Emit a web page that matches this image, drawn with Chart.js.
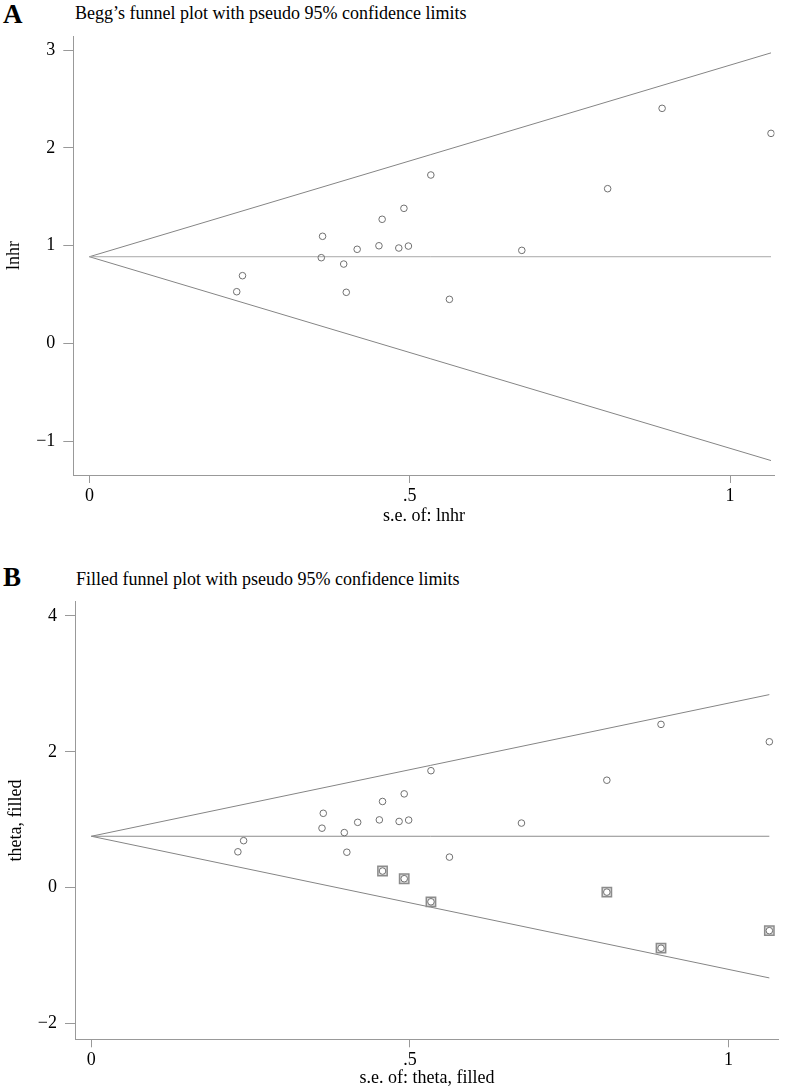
<!DOCTYPE html>
<html>
<head>
<meta charset="utf-8">
<script src="https://cdn.jsdelivr.net/npm/chart.js@4.4.1/dist/chart.umd.min.js"></script>
<style>
body { margin:0; background:#fff; width:787px; height:1088px; position:relative; overflow:hidden; font-family:"Liberation Serif", serif; color:#000; }
.letter { position:absolute; left:3px; font-size:27px; font-weight:bold; line-height:27px; }
.ttl { position:absolute; left:75px; font-size:18px; line-height:18px; white-space:nowrap; }
canvas { position:absolute; left:0; }
</style>
</head>
<body>
<div class="letter" style="top:1px">A</div>
<div class="ttl" style="top:4px">Begg’s funnel plot with pseudo 95% confidence limits</div>
<canvas id="chartA" width="787" height="530" style="top:0"></canvas>

<div class="letter" style="top:564px">B</div>
<div class="ttl" style="top:570px; left:76px">Filled funnel plot with pseudo 95% confidence limits</div>
<canvas id="chartB" width="787" height="544" style="top:544px"></canvas>

<script>
// studies: s.e. and lnhr
var seStudy = [0.533, 0.491, 0.457, 0.364, 0.418, 0.452, 0.483, 0.498, 0.362, 0.397, 0.239, 0.230, 0.401, 0.562, 0.894, 1.064, 0.809, 0.675];
var lnhr    = [1.722, 1.381, 1.269, 1.095, 0.962, 0.998, 0.975, 0.995, 0.876, 0.811, 0.692, 0.528, 0.522, 0.450, 2.404, 2.148, 1.582, 0.951];

// trim and fill: imputed studies
var seFilled    = [0.457, 0.491, 0.533, 0.809, 0.894, 1.064];
var thetaFilled = [0.245, 0.132, -0.208, -0.065, -0.891, -0.633];

var pooledA = 0.886;
var pooledB = 0.757;

var xTicks = [0, 0.5, 1];
var xTickLabels = ['0', '.5', '1'];
var yTicksA = [-1, 0, 1, 2, 3];
var yTicksB = [-2, 0, 2, 4];

var serif = 'Liberation Serif';

function pts(xs, ys) {
  var out = [];
  for (var i = 0; i < xs.length; i++) out.push({x: xs[i], y: ys[i]});
  return out;
}

function funnelSets(theta, se, midColor) {
  var maxSe = Math.max.apply(null, se);
  var base = {type: 'line', showLine: true, pointRadius: 0, borderWidth: 1, fill: false, tension: 0};
  return [
    Object.assign({}, base, {data: [{x: 0, y: theta}, {x: maxSe, y: theta}], borderColor: midColor}),
    Object.assign({}, base, {data: [{x: 0, y: theta}, {x: maxSe, y: theta + 1.96 * maxSe}], borderColor: '#858585'}),
    Object.assign({}, base, {data: [{x: 0, y: theta}, {x: maxSe, y: theta - 1.96 * maxSe}], borderColor: '#858585'})
  ];
}

function circles(xs, ys, fill) {
  return {
    type: 'scatter', data: pts(xs, ys), pointStyle: 'circle', pointRadius: 3.3,
    borderWidth: 1, borderColor: '#707070', backgroundColor: fill
  };
}

function scales(o) {
  return {
    x: {
      type: 'linear', min: o.xmin, max: o.xmax,
      afterBuildTicks: function (s) { s.ticks = xTicks.map(function (v) { return {value: v}; }); },
      afterFit: function (s) { s.height = o.xh; },
      ticks: {
        autoSkip: false, maxRotation: 0, padding: 2, color: '#000',
        font: {family: serif, size: 18},
        callback: function (v) { return xTickLabels[xTicks.indexOf(v)]; }
      },
      grid: {drawOnChartArea: false, drawTicks: true, tickLength: 8, color: '#999'},
      border: {color: '#999'},
      title: {display: true, text: o.xtitle, color: '#000', font: {family: serif, size: 18}, padding: {top: 0, bottom: o.xtp}}
    },
    y: {
      type: 'linear', min: o.ymin, max: o.ymax,
      afterBuildTicks: function (s) { s.ticks = o.yticks.map(function (v) { return {value: v}; }); },
      afterFit: function (s) { s.width = o.yw; },
      ticks: {
        autoSkip: false, padding: 8, color: '#000',
        font: {family: serif, size: 18},
        callback: function (v) { return v < 0 ? '\u2212' + Math.abs(v) : String(v); }
      },
      grid: {drawOnChartArea: false, drawTicks: true, tickLength: 10, color: '#999'},
      border: {color: '#999'},
      title: {display: true, text: o.ytitle, color: '#000', font: {family: serif, size: 18}, padding: {top: o.ytp, bottom: 0}}
    }
  };
}

var common = {
  responsive: false,
  animation: false,
  plugins: {legend: {display: false}, tooltip: {enabled: false}, title: {display: false}}
};

new Chart(document.getElementById('chartA'), {
  type: 'scatter',
  data: {
    datasets: [circles(seStudy, lnhr, 'rgba(0,0,0,0)')].concat(funnelSets(pooledA, seStudy, '#a8a8a8'))
  },
  options: Object.assign({}, common, {
    layout: {padding: {top: 36, right: 12.4, left: 0, bottom: 0}},
    scales: scales({
      xmin: -0.0251, xmax: 1.0696, ymin: -1.347, ymax: 3.144,
      xh: 55, yw: 73.3, xtp: 3.2, ytp: 3.2, yticks: yTicksA,
      xtitle: 's.e. of: lnhr', ytitle: 'lnhr'
    })
  })
});

var squares = {
  type: 'scatter', data: pts(seFilled, thetaFilled), pointStyle: 'rect', pointRadius: 6.6,
  borderWidth: 1.5, borderColor: '#8c8c8c', backgroundColor: '#dedede'
};

new Chart(document.getElementById('chartB'), {
  type: 'scatter',
  data: {
    datasets: [
      circles(seFilled, thetaFilled, '#ffffff'),
      squares,
      circles(seStudy, lnhr, 'rgba(0,0,0,0)')
    ].concat(funnelSets(pooledB, seStudy, '#8c8c8c'))
  },
  options: Object.assign({}, common, {
    layout: {padding: {top: 57.7, right: 4, left: 0, bottom: 0}},
    scales: scales({
      xmin: -0.0256, xmax: 1.079, ymin: -2.232, ymax: 4.21,
      xh: 48.7, yw: 75, xtp: -1, ytp: 5.2, yticks: yTicksB,
      xtitle: 's.e. of: theta, filled', ytitle: 'theta, filled'
    })
  })
});
</script>
</body>
</html>
